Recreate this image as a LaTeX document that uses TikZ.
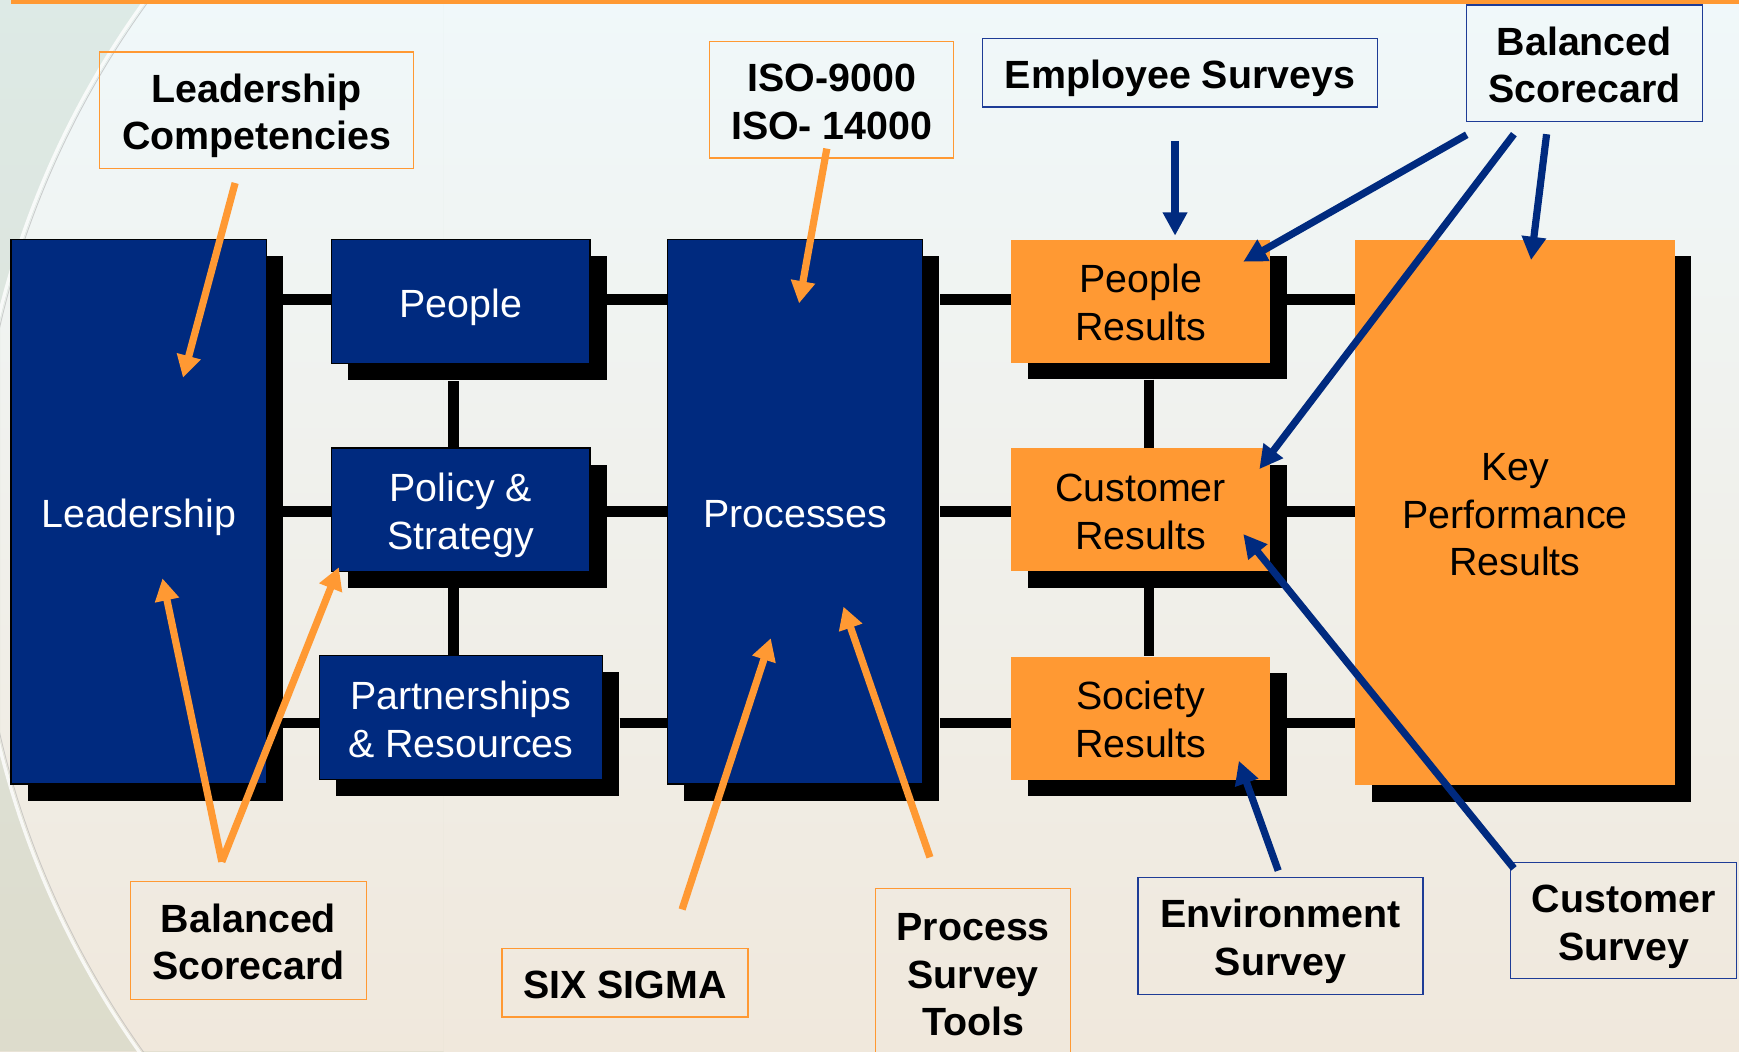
\documentclass[tikz,border=0pt]{standalone}
\usepackage{fontspec}
\setmainfont{Liberation Sans}
\usetikzlibrary{shadows,arrows.meta}
\definecolor{navy}{RGB}{0,42,127}
\definecolor{orng}{RGB}{255,153,51}
\definecolor{lblue}{RGB}{30,60,150}
\definecolor{bgtop}{RGB}{240,248,250}
\definecolor{bgbot}{RGB}{240,232,220}
\newcommand{\tx}[1]{\raisebox{0pt}[\dimexpr\height+11pt\relax][\depth]{\begin{tabular}{@{}c@{}}#1\end{tabular}}}
\tikzset{
  shd/.style={general shadow={fill=black, shadow xshift=15pt, shadow yshift=-15pt}},
  bluebox/.style={shd, draw=black, line width=1.2pt, fill=navy, text=white,
    inner sep=0pt, font=\fontsize{35.5}{43}\selectfont},
  orangebox/.style={shd, fill=orng, text=black,
    inner sep=0pt, font=\fontsize{35.5}{43}\selectfont},
  olabel/.style={draw=orng, line width=1.2pt, inner sep=0pt,
    font=\bfseries\fontsize{35.5}{43}\selectfont},
  blabel/.style={draw=lblue, line width=1.2pt, inner sep=0pt,
    font=\bfseries\fontsize{35.5}{43}\selectfont},
  conn/.style={draw=black, line width=9.5pt},
  oarrow/.style={draw=orng, line width=6.5pt, -{Triangle[length=20pt,width=21pt]}},
  barrow/.style={draw=navy, line width=6.5pt, -{Triangle[length=21pt,width=21pt]}},
}
\begin{document}
\begin{tikzpicture}[x=1pt,y=-1pt]
\useasboundingbox (0,0) rectangle (1568,948);
\clip (0,0) rectangle (1568,948);
% background
\fill[top color=bgtop, bottom color=bgbot] (0,0) rectangle (1568,948);
\begin{scope}
  \clip (0,0) rectangle (400,948);
  \fill[black!40!green!30!gray, opacity=0.12, even odd rule] (0,0) rectangle (400,948) (790,478) circle (812pt);
  \draw[white, line width=3pt, opacity=0.8] (790,478) circle (814pt);
  \draw[gray!60, line width=0.8pt, opacity=0.6] (790,478) circle (811pt);
\end{scope}
\fill[orng] (10,0) rectangle (1568,4);

% main boxes
\node[bluebox, minimum width=230pt, minimum height=491pt] (lead) at (125,461.5) {\tx{Leadership}};
\node[bluebox, minimum width=233pt, minimum height=112pt] (people) at (415.5,272) {\tx{People}};
\node[bluebox, minimum width=233pt, minimum height=111pt] (policy) at (415.5,459.5) {\tx{Policy \&\\Strategy}};
\node[bluebox, minimum width=255pt, minimum height=112pt] (partn) at (415.5,647) {\tx{Partnerships\\\& Resources}};
\node[bluebox, minimum width=230pt, minimum height=491pt] (proc) at (717,461.5) {\tx{Processes}};
\node[orangebox, minimum width=233pt, minimum height=111pt] (pres) at (1028.5,271.5) {\tx{People\\Results}};
\node[orangebox, minimum width=233pt, minimum height=111pt] (cres) at (1028.5,459.5) {\tx{Customer\\Results}};
\node[orangebox, minimum width=233pt, minimum height=111pt] (sres) at (1028.5,647.5) {\tx{Society\\Results}};
\node[orangebox, minimum width=288pt, minimum height=492pt] (kpr) at (1366,462) {\tx{Key\\Performance\\Results}};

% connectors
\draw[conn] ([xshift=15pt]lead.east |- 0,270) -- (people.west |- 0,270);
\draw[conn] ([xshift=15pt]people.east |- 0,270) -- (proc.west |- 0,270);
\draw[conn] ([xshift=15pt]proc.east |- 0,270) -- (pres.west |- 0,270);
\draw[conn] ([xshift=15pt]pres.east |- 0,270) -- (kpr.west |- 0,270);
\draw[conn] ([xshift=15pt]lead.east |- 0,461) -- (policy.west |- 0,461);
\draw[conn] ([xshift=15pt]policy.east |- 0,461) -- (proc.west |- 0,461);
\draw[conn] ([xshift=15pt]proc.east |- 0,461) -- (cres.west |- 0,461);
\draw[conn] ([xshift=15pt]cres.east |- 0,461) -- (kpr.west |- 0,461);
\draw[conn] ([xshift=15pt]lead.east |- 0,652) -- (partn.west |- 0,652);
\draw[conn] ([xshift=15pt]partn.east |- 0,652) -- (proc.west |- 0,652);
\draw[conn] ([xshift=15pt]proc.east |- 0,652) -- (sres.west |- 0,652);
\draw[conn] ([xshift=15pt]sres.east |- 0,652) -- (kpr.west |- 0,652);
\draw[conn] ([xshift=-6.5pt,yshift=-15pt]people.south) -- ([xshift=-6.5pt]policy.north);
\draw[conn] ([xshift=-6.5pt,yshift=-15pt]policy.south) -- ([xshift=-6.5pt]partn.north);
\draw[conn] ([xshift=7.5pt,yshift=-15pt]pres.south) -- ([xshift=7.5pt]cres.north);
\draw[conn] ([xshift=7.5pt,yshift=-15pt]cres.south) -- ([xshift=7.5pt]sres.north);

% label boxes
\node[olabel, minimum width=283pt, minimum height=105pt] (lc) at (231.5,99.5) {\tx{Leadership\\Competencies}};
\node[olabel, minimum width=220pt, minimum height=105pt] (iso) at (750,90) {\tx{ISO-9000\\ISO- 14000}};
\node[blabel, minimum width=356pt, minimum height=62pt] (emp) at (1064,65.5) {\tx{Employee Surveys}};
\node[blabel, minimum width=213pt, minimum height=105pt] (bst) at (1428.5,57) {\tx{Balanced\\Scorecard}};
\node[olabel, minimum width=213pt, minimum height=106pt] (bsb) at (224,848) {\tx{Balanced\\Scorecard}};
\node[olabel, minimum width=222pt, minimum height=62pt] (six) at (563.5,886) {\tx{SIX SIGMA}};
\node[olabel, minimum width=176pt, minimum height=152pt] (pst) at (877.5,877) {\tx{Process\\Survey\\Tools}};
\node[blabel, minimum width=257pt, minimum height=105pt] (env) at (1154.5,844) {\tx{Environment\\Survey}};
\node[blabel, minimum width=204pt, minimum height=105pt] (cs) at (1464,830) {\tx{Customer\\Survey}};

% arrow end points
\coordinate (lcA) at (212,165);   \coordinate (lcB) at (165,340.5);
\coordinate (isoA) at (745.5,134); \coordinate (isoB) at (720.5,273.5);
\coordinate (bsbA) at (200,777);  \coordinate (bsbB) at (146.5,521.5); \coordinate (bsbC) at (305.5,511.5);
\coordinate (sixA) at (615,820);  \coordinate (sixB) at (695,575.5);
\coordinate (pstA) at (838.5,773); \coordinate (pstB) at (760.5,547);
\coordinate (empA) at (1059.5,127); \coordinate (empB) at (1059.5,212.5);
\coordinate (bstA) at (1322.5,121.5); \coordinate (bstB) at (1121,236);
\coordinate (bstC) at (1365,121); \coordinate (bstD) at (1135.5,423);
\coordinate (bstE) at (1394.5,121); \coordinate (bstF) at (1380.5,234.5);
\coordinate (envA) at (1152.5,785); \coordinate (envB) at (1117,686);
\coordinate (csA) at (1365,783);  \coordinate (csB) at (1121,481.5);

% orange arrows
\draw[oarrow] (lcA) -- (lcB);
\draw[oarrow] (isoA) -- (isoB);
\draw[oarrow] (bsbA) -- (bsbB);
\draw[oarrow] (bsbA) -- (bsbC);
\draw[oarrow] (sixA) -- (sixB);
\draw[oarrow] (pstA) -- (pstB);
% blue arrows
\draw[barrow] (empA) -- (empB);
\draw[barrow] (bstA) -- (bstB);
\draw[barrow] (bstC) -- (bstD);
\draw[barrow] (bstE) -- (bstF);
\draw[barrow] (envA) -- (envB);
\draw[barrow] (csA) -- (csB);
\end{tikzpicture}
\end{document}
